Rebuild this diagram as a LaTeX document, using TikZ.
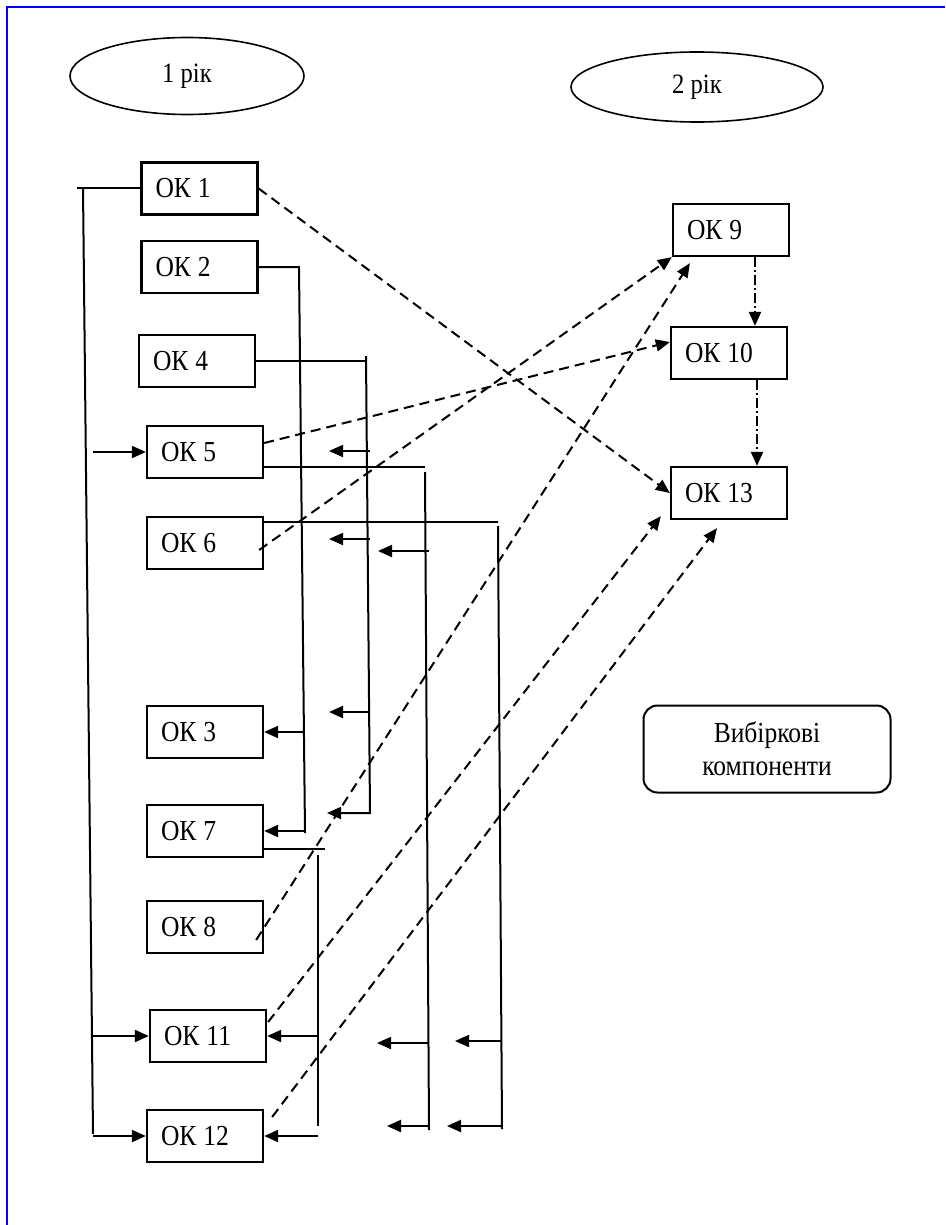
\documentclass[tikz,border=0pt]{standalone}
\usepackage{fontspec}
\setmainfont{Liberation Serif}[FakeStretch=0.88]
\usetikzlibrary{shapes.geometric,arrows.meta,calc}

\begin{document}
\begin{tikzpicture}[x=1pt,y=-1pt,
  >={Triangle[length=14pt,width=12pt]},
  okbox/.style={draw,line width=2.3pt,minimum height=52pt,text width=88pt,
    inner xsep=14pt,align=left,font=\fontsize{29}{33}\selectfont},
  rikoval/.style={ellipse,draw,line width=1.6pt,font=\fontsize{28}{33}\selectfont},
  vybbox/.style={draw,rounded corners=14pt,line width=2pt,minimum width=247pt,
    minimum height=87pt,align=center,font=\fontsize{29}{33}\selectfont},
  link/.style={line width=2pt},
  dashline/.style={line width=2pt,dash pattern=on 10pt off 6pt},
  dashdotline/.style={line width=2pt,dash pattern=on 10pt off 3pt on 2pt off 3pt}]
  \useasboundingbox (0,0) rectangle (945,1225);

  % рамка
  \draw[blue,line width=2pt] (7,1225) -- (7,7) -- (945,7);

  % роки
  \node[rikoval,minimum width=234pt,minimum height=77pt] (rik1) at (187,76) {1 рік};
  \node[rikoval,minimum width=252pt,minimum height=70pt] (rik2) at (697,87) {2 рік};

  % обов'язкові компоненти
  \foreach \n/\x/\y in {1/199.5/188.5, 2/199.5/267, 4/197/361, 5/205/452,
      6/205/543, 3/205/732, 7/205/831, 8/205/927, 11/208/1036, 12/205/1136,
      9/731/230, 10/729/353, 13/729/493} {
    \node[okbox] (OK\n) at (\x,\y) {ОК\kern7pt\n};
  }

  % вибіркові
  \node[vybbox] (vyb) at (767,749) {Вибіркові\\компоненти};

  % шина від ОК 1
  \coordinate (b1end) at (77,188);
  \coordinate (b1top) at (83,188);
  \coordinate (b1bot) at (93,1134);
  \draw[link] (OK1.west) -- (OK1.west -| b1end);
  \draw[link] (b1top) -- (b1bot);
  \foreach \n in {5,11,12}
    \draw[link,->] (b1bot |- OK\n.west) -- (OK\n.west);

  % шина від ОК 2
  \coordinate (b2top) at (299,267);
  \coordinate (b2bot) at (305,833);
  \draw[link] (OK2.east) -- (b2top) -- (b2bot);
  \foreach \n in {3,7}
    \draw[link,->] (b2bot |- OK\n.east) -- (OK\n.east);

  % шина від ОК 4
  \coordinate (b3top) at (366,356);
  \coordinate (b3bot) at (370,813);
  \coordinate (b3end) at (327,813);
  \draw[link] (OK4.east) -- (OK4.east -| b3top);
  \draw[link,->] (b3top) -- (b3bot) -- (b3end);
  \foreach \y [count=\i] in {451,539,712} {
    \coordinate (a3\i) at (329,\y);
    \draw[link,->] (a3\i -| b3bot) -- (a3\i);
  }

  % шина від ОК 5
  \coordinate (b4top) at (425,467);
  \coordinate (b4bot) at (429,1130);
  \draw[link] (OK5.east |- b4top) -- (b4top);
  \draw[link] ([yshift=-5pt]b4top) -- (b4bot);
  \foreach \y/\x [count=\i] in {551/378,1043/377,1126/387} {
    \coordinate (a4\i) at (\x,\y);
    \draw[link,->] (a4\i -| b4bot) -- (a4\i);
  }

  % шина від ОК 6
  \coordinate (b5top) at (498,522);
  \coordinate (b5bot) at (502,1129);
  \draw[link] (OK6.east |- b5top) -- (b5top);
  \draw[link] ([yshift=-4pt]b5top) -- (b5bot);
  \foreach \y/\x [count=\i] in {1041/455,1126/447} {
    \coordinate (a5\i) at (\x,\y);
    \draw[link,->] (a5\i -| b5bot) -- (a5\i);
  }

  % шина від ОК 7
  \coordinate (b6top) at (325,849);
  \coordinate (b6v) at (318,855);
  \coordinate (b6bot) at (318,1126);
  \draw[link] (OK7.east |- b6top) -- (b6top);
  \draw[link] (b6v) -- (b6bot);
  \foreach \n in {11,12}
    \draw[link,->] (b6bot |- OK\n.east) -- (OK\n.east);

  % до другого року
  \draw[dashline,->] (OK1.east) -- (OK13.west);
  \draw[dashline,->] ([yshift=9pt]OK5.east) -- ([yshift=11pt]OK10.west);
  \draw[dashline,->] ([xshift=-5pt,yshift=-7pt]OK6.east) -- (OK9.south west);
  \draw[dashline,->] ([xshift=-8pt,yshift=-13pt]OK8.east) -- ([xshift=18pt,yshift=-6pt]OK9.south west);
  \draw[dashline,->] ([xshift=1pt,yshift=14pt]OK11.east) -- ([xshift=-9pt,yshift=4pt]OK13.south west);
  \draw[dashline,->] ([xshift=8pt,yshift=19pt]OK12.east) -- ([xshift=-12pt,yshift=-8pt]OK13.south);

  % другий рік
  \draw[dashdotline,->] ([xshift=24pt]OK9.south) -- ([xshift=26pt]OK10.north);
  \draw[dashdotline,->] ([xshift=28pt]OK10.south) -- ([xshift=28pt]OK13.north);
\end{tikzpicture}
\end{document}
